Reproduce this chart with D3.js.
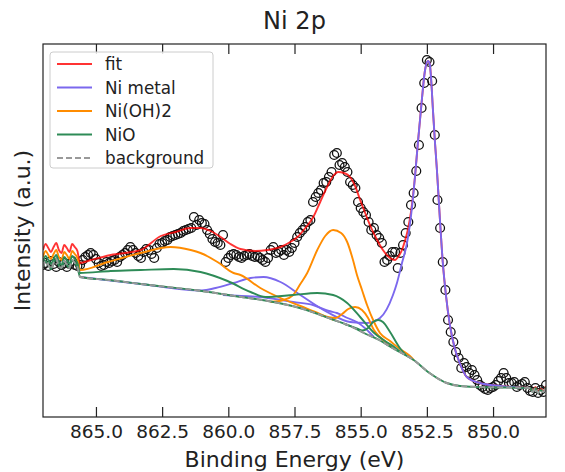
<!DOCTYPE html>
<html lang="en">
<head>
<meta charset="UTF-8">
<title>Ni 2p</title>
<script src="https://d3js.org/d3.v7.min.js"></script>
<style>
  body { margin: 0; background: #fff; }
  svg { font-family: "DejaVu Sans", sans-serif; }
</style>
</head>
<body>
<script>
  // measured spectrum: first energy, step, intensities (a.u.)
  const eStart = 867.0, eStep = 0.1;
  const counts = [
    152,154,151,156,153,150,155,152,154,150,153,156,152,151,
    152,157,160,162,164,162,158,154,151,152,
    155,154,156,157,155,160,162,164,167,170,
    167,164,161,159,165,168,167,163,159,169,
    173,174,176,177,180,181,182,183,184,186,
    187,188,189,200,192,197,194,193,187,183,
    178,175,174,172,182,155,159,162,163,162,
    160,159,161,162,163,161,160,161,159,157,
    155,159,167,170,164,165,167,162,167,165,
    169,174,180,184,187,190,195,197,215,220,
    224,227,234,235,240,245,262,264,252,254,
    250,245,235,232,229,215,209,205,202,195,
    187,189,182,179,174,155,157,161,165,165,
    149,164,172,184,195,212,224,246,272,309,
    334,357,355,336,282,217,189,155,127,97,
    85,75,65,59,49,54,50,44,47,42,
    37,32,30,28,27,29,30,32,36,39,
    44,39,34,34,35,30,32,33,35,29,
    26,25,29,24,27,25,32
  ];

  // fitted curves, [binding energy, intensity]
  const background = [
    [867.0,150],[866.9,156],[866.8,152],[866.7,148],[866.6,154],[866.5,158],[866.4,151],
    [866.3,149],[866.2,156],[866.1,152],[866.0,149],[865.9,157],[865.8,154],[865.7,150],
    [865.6,140],[864.5,137],[863.3,133],[861.0,126],[859.5,120],[858.5,116],[857.3,109],
    [856.0,97],[855.4,91],[854.8,83],[854.3,77],[853.8,69],[853.0,57],[852.4,44],
    [851.75,34],[851.25,31],[850.5,30],[848.6,29],[848.5,25],[848.4,29],[848.3,24],
    [848.2,27],[848.1,25],[848.0,30]
  ];

  const fitLine = [
    [867.0,167],[866.9,173],[866.8,169],[866.7,165],[866.6,170],[866.5,174],[866.4,167],
    [866.3,164],[866.2,172],[866.1,169],[866.0,165],[865.9,173],[865.8,170],[865.7,166],
    [865.6,154],[865.19,157],[864.44,162],[863.31,167],[862.55,181],[861.99,185],
    [861.42,189],[861.05,189],[860.67,186],[860.29,180],[859.92,173],[859.54,168],
    [858.98,166],[858.52,167],[858.03,170],[857.66,175],[857.39,180],[857.09,189],
    [856.79,200],[856.53,215],[856.27,230],[856.04,241],[855.85,245],[855.63,244],
    [855.40,240],[855.21,231],[855.02,217],[854.83,204],[854.65,192],[854.38,177],
    [854.16,167],[853.89,159],[853.70,157],[853.59,160],[853.44,167],[853.33,176],
    [853.22,187],[853.10,205],[852.95,240],[852.84,274],[852.69,317],[852.58,345],
    [852.46,356],[852.39,353],[852.35,342],[852.27,307],[852.20,277],[852.12,247],
    [852.01,199],[851.90,155],[851.78,122],[851.63,92],[851.45,69],[851.26,54],
    [850.99,40],[850.50,34],[849.75,31],[848.62,29],[848.5,26],[848.4,30],[848.3,25],
    [848.2,28],[848.1,26],[848.0,31]
  ];

  const niMetalLines = [
    [
      [865.6,140],[863.3,133],[861.0,126.5],[860.48,129],[859.80,134],[859.16,139],
      [858.67,140],[858.03,135],[857.28,122],[856.27,105],[855.40,95],[854.76,94],
      [854.27,99],[853.78,122],[853.63,134],[853.44,154],[853.25,174],[853.06,210],
      [852.95,240],[852.84,274],[852.69,317],[852.58,345],[852.46,356],[852.39,353],
      [852.35,342],[852.27,307],[852.20,277],[852.12,247],[852.01,199],[851.90,155],
      [851.78,122],[851.63,92],[851.45,69],[851.26,54],[850.99,40],[850.50,34],
      [849.75,31],[848.62,29]
    ],
    [
      [860.2,122],[859.5,121],[858.8,120],[858.0,117],[857.55,115],[856.8,112],
      [856.2,106],[855.9,104],[855.5,99],[855.15,95],[854.8,88],[854.5,80]
    ]
  ];

  const niOH2Lines = [
    [
      [867.0,160],[866.9,166],[866.8,162],[866.7,158],[866.6,163],[866.5,167],[866.4,160],
      [866.3,157],[866.2,165],[866.1,162],[866.0,158],[865.9,166],[865.8,163],[865.7,159],
      [865.6,147],[864.55,155],[863.31,164],[862.18,170],[861.42,167],[861.05,164],
      [860.41,155],[859.80,144],[859.54,142],[858.79,129],[858.03,119],[857.28,111],
      [856.53,103],[856.04,97]
    ],
    [
      [858.41,115],[857.92,117],[857.55,122],[857.28,133],[857.02,144],[856.64,167],
      [856.34,181],[856.04,187],[855.74,184],[855.51,175],[855.29,157],[855.14,142],
      [854.95,127],[854.76,112],[854.53,97],[854.27,84],[853.89,76],[853.52,68],
      [853.14,61],[853.0,57]
    ],
    [
      [856.53,102],[855.96,99],[855.70,103],[855.47,108],[855.21,110],[854.95,107],
      [854.72,99],[854.50,87],[854.27,80],[853.97,73],[853.70,68]
    ]
  ];

  const nioLines = [
    [
      [867.0,155],[866.9,161],[866.8,157],[866.7,153],[866.6,158],[866.5,162],[866.4,155],
      [866.3,152],[866.2,160],[866.1,157],[866.0,153],[865.9,161],[865.8,158],[865.7,154],
      [865.6,144],[864.44,146],[863.31,147],[862.06,148],[861.05,145],[860.03,136],
      [859.16,125],[858.60,120],[857.55,122],[856.64,124],[856.04,122],[855.51,114],
      [855.02,100],[854.53,85],[854.08,76],[853.78,71],[853.5,65]
    ],
    [
      [855.6,93],[855.1,88],[854.95,86.5],[854.72,89],[854.53,95],[854.34,97],
      [854.16,95],[853.89,85],[853.52,69],[853.3,62]
    ]
  ];

  const xTicks = [865.0, 862.5, 860.0, 857.5, 855.0, 852.5, 850.0];
  const legendItems = [
    { label: 'fit', color: 'red', dash: null, op: 0.8 },
    { label: 'Ni metal', color: '#7b68ee', dash: null, op: 1 },
    { label: 'Ni(OH)2', color: '#ff8c00', dash: null, op: 1 },
    { label: 'NiO', color: '#2e8b57', dash: null, op: 1 },
    { label: 'background', color: '#999', dash: '6,3', op: 1 }
  ];

  const W = 565, H = 472;
  const pLeft = 43, pRight = 546, pTop = 44, pBottom = 417;

  const svg = d3.select('body').append('svg')
    .attr('width', W)
    .attr('height', H);

  const x = d3.scaleLinear().domain([867, 848]).range([pLeft, pRight]);
  const y = d3.scaleLinear().domain([0, 373]).range([pBottom, pTop]);

  svg.append('clipPath').attr('id', 'plotclip')
    .append('rect')
    .attr('x', pLeft).attr('y', pTop)
    .attr('width', pRight - pLeft).attr('height', pBottom - pTop);

  const plot = svg.append('g').attr('clip-path', 'url(#plotclip)');

  const line = d3.line()
    .x(d => x(d[0]))
    .y(d => y(d[1]))
    .curve(d3.curveMonotoneX);

  // data points
  plot.selectAll('circle')
    .data(counts)
    .enter()
    .append('circle')
    .attr('cx', (d, i) => x(eStart - i * eStep))
    .attr('cy', d => y(d))
    .attr('r', 4.4)
    .attr('fill', 'none')
    .attr('stroke', '#111')
    .attr('stroke-width', 1.3);

  function drawLines(arr, color, op) {
    arr.forEach(pts => {
      plot.append('path')
        .datum(pts)
        .attr('d', line)
        .attr('fill', 'none')
        .attr('stroke', color)
        .attr('stroke-opacity', op)
        .attr('stroke-width', 1.9);
    });
  }

  drawLines([fitLine], 'red', 0.8);
  drawLines(niMetalLines, '#7b68ee', 1);
  drawLines(niOH2Lines, '#ff8c00', 1);
  drawLines(nioLines, '#2e8b57', 1);
  // NiO components lie on the background outside their peaks
  drawLines([background], '#2e8b57', 1);

  plot.append('path')
    .datum(background)
    .attr('d', line)
    .attr('fill', 'none')
    .attr('stroke', '#999')
    .attr('stroke-width', 1.9)
    .attr('stroke-dasharray', '6,3');

  // frame
  svg.append('rect')
    .attr('x', pLeft).attr('y', pTop)
    .attr('width', pRight - pLeft).attr('height', pBottom - pTop)
    .attr('fill', 'none')
    .attr('stroke', '#222')
    .attr('stroke-width', 1.2);

  const xAxis = d3.axisBottom(x)
    .tickValues(xTicks)
    .tickFormat(d3.format('.1f'))
    .tickSizeInner(-10)
    .tickSizeOuter(0)
    .tickPadding(8);

  const gx = svg.append('g')
    .attr('transform', `translate(0,${pBottom})`)
    .call(xAxis);
  gx.select('.domain').remove();
  gx.selectAll('.tick line').attr('stroke', '#222').attr('stroke-width', 1.2);
  gx.selectAll('.tick text')
    .attr('fill', '#222')
    .style('font-size', '18.5px')
    .style('font-family', '"DejaVu Sans", sans-serif');

  const gxTop = svg.append('g')
    .attr('transform', `translate(0,${pTop})`)
    .call(d3.axisTop(x).tickValues(xTicks).tickFormat('').tickSizeInner(-10).tickSizeOuter(0));
  gxTop.select('.domain').remove();
  gxTop.selectAll('.tick line').attr('stroke', '#222').attr('stroke-width', 1.2);

  // labels
  svg.append('text')
    .attr('x', (pLeft + pRight) / 2)
    .attr('y', 467)
    .attr('text-anchor', 'middle')
    .style('font-size', '22px')
    .attr('fill', '#222')
    .text('Binding Energy (eV)');

  svg.append('text')
    .attr('transform', `translate(30,${(pTop + pBottom) / 2}) rotate(-90)`)
    .attr('text-anchor', 'middle')
    .style('font-size', '22px')
    .attr('fill', '#222')
    .text('Intensity (a.u.)');

  svg.append('text')
    .attr('x', (pLeft + pRight) / 2)
    .attr('y', 29)
    .attr('text-anchor', 'middle')
    .style('font-size', '24px')
    .attr('fill', '#222')
    .text('Ni 2p');

  // legend
  const lg = svg.append('g');
  lg.append('rect')
    .attr('x', 50).attr('y', 52)
    .attr('width', 163).attr('height', 116)
    .attr('rx', 3)
    .attr('fill', '#fff')
    .attr('fill-opacity', 0.85)
    .attr('stroke', '#ccc')
    .attr('stroke-width', 1);

  const items = lg.selectAll('g.item')
    .data(legendItems)
    .enter()
    .append('g')
    .attr('transform', (d, i) => `translate(0,${64 + i * 23.5})`);

  items.append('line')
    .attr('x1', 57).attr('x2', 92)
    .attr('stroke', d => d.color)
    .attr('stroke-opacity', d => d.op)
    .attr('stroke-width', 1.9)
    .attr('stroke-dasharray', d => d.dash);

  items.append('text')
    .attr('x', 105)
    .attr('y', 6)
    .style('font-size', '16.8px')
    .attr('fill', '#222')
    .text(d => d.label);
</script>
</body>
</html>
